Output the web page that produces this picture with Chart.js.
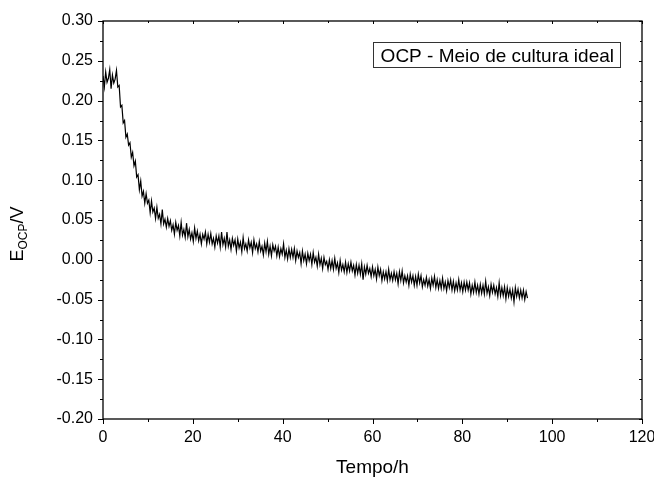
<!DOCTYPE html>
<html>
<head>
<meta charset="utf-8">
<script src="https://cdn.jsdelivr.net/npm/chart.js@4.4.0/dist/chart.umd.min.js"></script>
<style>
  html, body { margin: 0; padding: 0; background: #fff; }
  #wrap { width: 654px; height: 477px; }
</style>
</head>
<body>
<div id="wrap"><canvas id="ocp-chart" width="654" height="477"></canvas></div>
<script>
// sampling step of the record, in hours
const timeStep = 0.3;

// E_OCP / V, one value every 0.3 h
const ocpValues = [
    0.231, 0.217, 0.236, 0.223, 0.228, 0.239, 0.215, 0.232, 0.222, 0.227,
    0.238, 0.217, 0.219, 0.192, 0.194, 0.172, 0.175, 0.154, 0.158, 0.144,
    0.147, 0.129, 0.135, 0.118, 0.124, 0.104, 0.107, 0.088, 0.099, 0.080,
    0.086, 0.071, 0.083, 0.071, 0.075, 0.059, 0.074, 0.060, 0.065, 0.052,
    0.066, 0.052, 0.057, 0.045, 0.063, 0.045, 0.051, 0.041, 0.052, 0.042,
    0.049, 0.037, 0.044, 0.032, 0.047, 0.037, 0.043, 0.030, 0.047, 0.031,
    0.038, 0.028, 0.046, 0.029, 0.038, 0.026, 0.034, 0.023, 0.040, 0.027,
    0.036, 0.024, 0.032, 0.020, 0.032, 0.026, 0.035, 0.020, 0.032, 0.022,
    0.033, 0.020, 0.027, 0.016, 0.030, 0.021, 0.030, 0.016, 0.035, 0.019,
    0.027, 0.016, 0.035, 0.017, 0.025, 0.013, 0.027, 0.018, 0.025, 0.011,
    0.026, 0.015, 0.022, 0.010, 0.028, 0.014, 0.020, 0.011, 0.025, 0.015,
    0.022, 0.009, 0.025, 0.014, 0.020, 0.010, 0.023, 0.011, 0.017, 0.006,
    0.021, 0.010, 0.023, 0.007, 0.017, 0.005, 0.019, 0.011, 0.017, 0.005,
    0.016, 0.004, 0.014, 0.007, 0.020, 0.003, 0.012, 0.001, 0.014, 0.003,
    0.013, 0.003, 0.014, -0.001, 0.011, 0.003, 0.009, -0.005, 0.011, -0.001,
    0.007, -0.005, 0.008, -0.001, 0.007, -0.006, 0.009, -0.003, 0.003, -0.008,
    0.007, -0.006, 0.002, -0.011, 0.003, -0.006, -0.002, -0.012, 0.000, -0.011,
    -0.001, -0.012, 0.002, -0.011, -0.004, -0.016, -0.001, -0.013, -0.006, -0.015,
    -0.003, -0.016, -0.005, -0.014, -0.003, -0.014, -0.007, -0.019, -0.006, -0.017,
    -0.007, -0.018, -0.005, -0.025, -0.009, -0.018, -0.007, -0.017, -0.011, -0.021,
    -0.009, -0.020, -0.012, -0.024, -0.009, -0.020, -0.012, -0.026, -0.015, -0.024,
    -0.015, -0.026, -0.012, -0.025, -0.017, -0.026, -0.015, -0.025, -0.017, -0.030,
    -0.015, -0.026, -0.014, -0.029, -0.020, -0.028, -0.020, -0.032, -0.018, -0.028,
    -0.020, -0.032, -0.021, -0.032, -0.018, -0.029, -0.020, -0.034, -0.025, -0.032,
    -0.022, -0.033, -0.025, -0.036, -0.023, -0.032, -0.021, -0.035, -0.025, -0.036,
    -0.026, -0.036, -0.023, -0.036, -0.028, -0.039, -0.026, -0.035, -0.025, -0.038,
    -0.027, -0.039, -0.029, -0.038, -0.025, -0.038, -0.029, -0.040, -0.028, -0.038,
    -0.028, -0.038, -0.029, -0.043, -0.032, -0.041, -0.028, -0.041, -0.032, -0.043,
    -0.031, -0.042, -0.032, -0.043, -0.027, -0.042, -0.034, -0.045, -0.031, -0.041,
    -0.032, -0.043, -0.035, -0.046, -0.029, -0.045, -0.035, -0.045, -0.034, -0.049,
    -0.035, -0.046, -0.037, -0.048, -0.038, -0.053, -0.035, -0.046, -0.037, -0.048,
    -0.038, -0.048, -0.038, -0.050, -0.040, -0.048
];

const seriesLabel = 'OCP - Meio de cultura ideal';
const xTitle = 'Tempo/h';

const xMin = 0, xMax = 120, xMajor = 20, xMinor = 10;
const yMin = -0.20, yMax = 0.30, yMajor = 0.05, yMinor = 0.025;

const FONT = '"Liberation Sans", Arial, sans-serif';

const points = ocpValues.map((v, i) => ({ x: i * timeStep, y: v }));

// frame, ticks, legend box and axis titles (E with subscript)
const framePlugin = {
    id: 'frame',
    afterDraw(chart) {
        const ctx = chart.ctx;
        const ca = chart.chartArea;
        const xs = chart.scales.x;
        const ys = chart.scales.y;
        ctx.save();
        ctx.strokeStyle = '#000';
        ctx.lineWidth = 1.3;
        ctx.strokeRect(ca.left, ca.top, ca.right - ca.left, ca.bottom - ca.top);

        ctx.lineWidth = 1;
        ctx.beginPath();
        for (let v = xMin; v <= xMax + 1e-9; v += xMinor) {
            const px = Math.round(xs.getPixelForValue(v)) + 0.5;
            const major = Math.abs(v % xMajor) < 1e-9;
            ctx.moveTo(px, ca.bottom);
            ctx.lineTo(px, ca.bottom + (major ? 5 : 3));
            ctx.moveTo(px, ca.top);
            ctx.lineTo(px, ca.top + (major ? 3 : 2));
        }
        for (let k = 0; k <= Math.round((yMax - yMin) / yMinor); k++) {
            const v = yMin + k * yMinor;
            const py = Math.round(ys.getPixelForValue(v)) + 0.5;
            const major = k % 2 === 0;
            ctx.moveTo(ca.left, py);
            ctx.lineTo(ca.left - (major ? 5 : 3), py);
            ctx.moveTo(ca.right, py);
            ctx.lineTo(ca.right - (major ? 3 : 2), py);
        }
        ctx.stroke();

        // legend box
        ctx.font = '19px ' + FONT;
        ctx.fillStyle = '#000';
        ctx.textBaseline = 'alphabetic';
        const tw = ctx.measureText(seriesLabel).width;
        const bx = ca.right - 22 - tw - 14;
        const by = ca.top + 21;
        ctx.strokeStyle = '#333';
        ctx.lineWidth = 1;
        ctx.strokeRect(Math.round(bx) + 0.5, by + 0.5, Math.round(tw + 14), 25);
        ctx.fillText(seriesLabel, bx + 8, by + 20);

        // x title
        ctx.textAlign = 'center';
        ctx.fillText(xTitle, (ca.left + ca.right) / 2, 473);

        // y title: E_OCP/V rotated
        ctx.translate(23, 234);
        ctx.rotate(-Math.PI / 2);
        ctx.textAlign = 'left';
        const big = '18px ' + FONT, small = '12px ' + FONT;
        ctx.font = big;
        const wE = ctx.measureText('E').width;
        const wV = ctx.measureText('/V').width;
        ctx.font = small;
        const wS = ctx.measureText('OCP').width;
        let x0 = -(wE + wS + wV) / 2;
        ctx.font = big;
        ctx.fillText('E', x0, 0);
        ctx.font = small;
        ctx.fillText('OCP', x0 + wE, 4);
        ctx.font = big;
        ctx.fillText('/V', x0 + wE + wS, 0);
        ctx.restore();
    }
};

new Chart(document.getElementById('ocp-chart'), {
    type: 'line',
    data: {
        datasets: [{
            label: seriesLabel,
            data: points,
            borderColor: '#000',
            borderWidth: 1.2,
            pointRadius: 0,
            tension: 0,
            fill: false
        }]
    },
    options: {
        responsive: false,
        animation: false,
        layout: { padding: { left: 0, right: 0, top: 21, bottom: 0 } },
        plugins: {
            legend: { display: false },
            tooltip: { enabled: false }
        },
        scales: {
            x: {
                type: 'linear',
                min: xMin,
                max: xMax,
                grid: { display: false, drawTicks: false },
                border: { display: false },
                ticks: {
                    stepSize: xMajor,
                    padding: 9,
                    color: '#000',
                    font: { family: FONT, size: 16 },
                    maxRotation: 0,
                    callback: v => String(v)
                },
                afterFit(scale) {
                    scale.height = 58;
                    scale.paddingLeft = 0;
                    scale.paddingRight = 12;
                }
            },
            y: {
                min: yMin,
                max: yMax,
                grid: { display: false, drawTicks: false },
                border: { display: false },
                ticks: {
                    stepSize: yMajor,
                    padding: 10,
                    color: '#000',
                    font: { family: FONT, size: 16 },
                    callback: v => Number(v).toFixed(2)
                },
                afterFit(scale) { scale.width = 103; }
            }
        }
    },
    plugins: [framePlugin]
});
</script>
</body>
</html>
